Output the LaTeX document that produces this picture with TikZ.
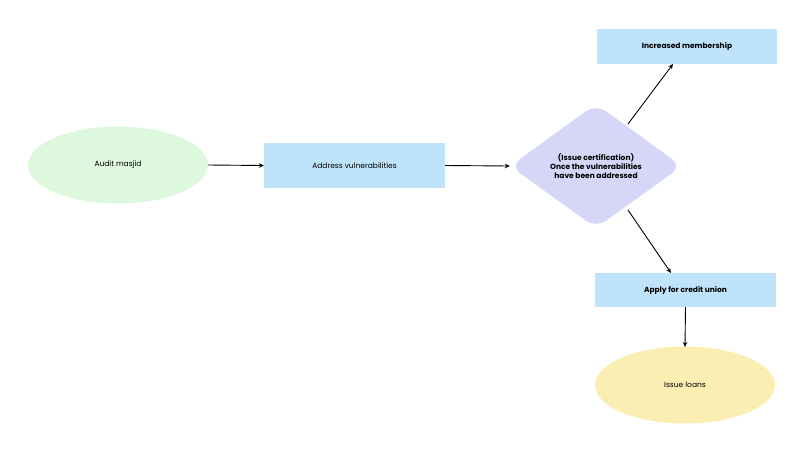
\documentclass[tikz,border=0pt]{standalone}
\usepackage{fontspec}
\setmainfont{Poppins}
\usetikzlibrary{shapes.geometric,arrows.meta}
\definecolor{cgreen}{HTML}{DDF8DD}
\definecolor{cblue}{HTML}{BFE3FA}
\definecolor{cpurp}{HTML}{D6D6F8}
\definecolor{cyel}{HTML}{FBEEB2}
\tikzset{
 box/.style={rectangle,fill=cblue,minimum width=181pt,minimum height=36pt,font=\fontsize{7.5}{9}\selectfont,inner sep=0},
 oval/.style={ellipse,minimum width=180pt,minimum height=77pt,font=\fontsize{7.5}{9}\selectfont},
 arr/.style={-{Stealth[length=5pt,width=4.5pt]},line width=0.9pt}
}
\begin{document}
\begin{tikzpicture}[x=1pt,y=-1pt]
\useasboundingbox (0,0) rectangle (806,453);
\node[oval,fill=cgreen] (audit) at (118,165) {Audit masjid};
\node[box,minimum height=45pt] (addr) at (354.5,165.5) {Address vulnerabilities};
\node[diamond,fill=cpurp,minimum width=172pt,minimum height=124pt,rounded corners=12pt,inner sep=0,align=center,font=\bfseries\fontsize{7.5}{9}\selectfont] (dia) at (596,166) {(Issue certification)\\Once the vulnerabilities\\have been addressed};
\node[box,font=\bfseries\fontsize{7.5}{9}\selectfont,minimum width=180pt,minimum height=35pt] (mem) at (687,46.5) {Increased membership};
\node[box,font=\bfseries\fontsize{7.5}{9}\selectfont,minimum height=34pt] (apply) at (685.5,290) {Apply for credit union};
\node[oval,fill=cyel] (loans) at (685,385) {Issue loans};
\draw[arr] (audit.east) -- (addr.west);
\draw[arr] (addr.east) -- (dia.west);
\draw[arr] (628,124) -- (673,64);
\draw[arr] (628,210) -- (671,273);
\draw[arr] (apply.south) -- (685,347);
\end{tikzpicture}
\end{document}
